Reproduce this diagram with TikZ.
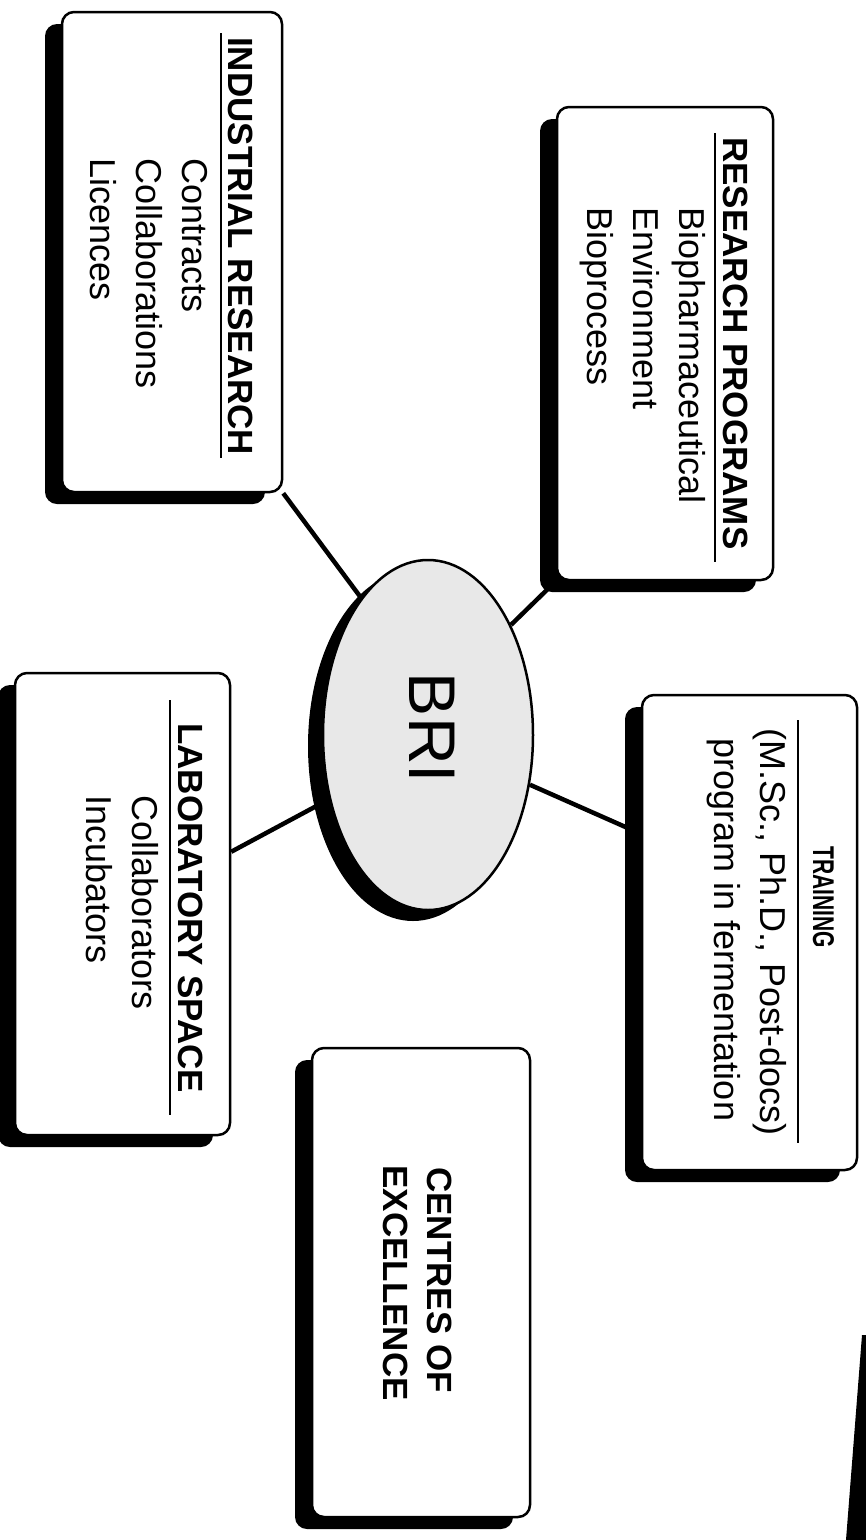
\documentclass[tikz,border=0pt]{standalone}
\usepackage{fontspec}
\setmainfont{Liberation Sans}
\usetikzlibrary{shapes.geometric,shadows,calc,backgrounds}
\begin{document}
\begin{tikzpicture}[x=1pt,y=-1pt,
  box/.style={draw=black, line width=2.5pt, rounded corners=12pt, fill=white, inner sep=0pt,
    drop shadow={shadow xshift=-17pt, shadow yshift=-12pt, fill=black, opacity=1}},
  ttl/.style={rotate=-90, anchor=base west, inner sep=0pt, font=\fontsize{35}{40}\selectfont\bfseries},
  itm/.style={rotate=-90, anchor=base west, inner sep=0pt, font=\fontsize{36}{40}\selectfont},
  ctr/.style={rotate=-90, anchor=base, inner sep=0pt},
  link/.style={line width=4.5pt},
  uline/.style={line width=2pt}]
\useasboundingbox (0,0) rectangle (866,1540);

% central ellipse
\node[ellipse, draw=black, line width=2.5pt, fill=black!9, minimum width=210pt, minimum height=350pt, inner sep=0pt,
  drop shadow={shadow xshift=-15pt, shadow yshift=-11pt, fill=black, opacity=1}] (ell) at (428,735) {};
\node[rotate=-90, inner sep=0pt, font=\fontsize{66}{70}\selectfont] (bri) at (432,728) {BRI};

% boxes
\node[box, minimum width=220pt, minimum height=480pt] (ind) at (172,252) {};
\node[box, minimum width=216pt, minimum height=473pt] (res) at (665,343.5) {};
\node[box, minimum width=215pt, minimum height=462pt] (lab) at (122.5,904) {};
\node[box, minimum width=215pt, minimum height=475pt] (tr) at (749.5,932.5) {};
\node[box, minimum width=218pt, minimum height=469pt] (ce) at (421,1282.5) {};

% industrial research
\node[ttl] (indt) at (228,37) {INDUSTRIAL RESEARCH};
\draw[uline] (221,33) -- (221,458);
\node[itm] (ind1) at (182,158) {Contracts};
\node[itm] (ind2) at (136,158) {Collaborations};
\node[itm] (ind3) at (90,158) {Licences};

% research programs
\node[ttl] (rest) at (723,137) {RESEARCH PROGRAMS};
\draw[uline] (715,133) -- (715,562);
\node[itm] (res1) at (679,207) {Biopharmaceutical};
\node[itm] (res2) at (633,207) {Environment};
\node[itm] (res3) at (587,207) {Bioprocess};

% laboratory space
\node[ttl] (labt) at (178,723) {LABORATORY SPACE};
\draw[uline] (170,700) -- (170,1115);
\node[itm] (lab1) at (132,795) {Collaborators};
\node[itm] (lab2) at (86,795) {Incubators};

% training
\node[ctr, xscale=0.7, font=\fontsize{30}{34}\selectfont\bfseries] (trt) at (813,897) {TRAINING};
\draw[uline] (798,720) -- (798,1143);
\node[ctr, font=\fontsize{36}{40}\selectfont] (tr1) at (760,932) {(M.Sc., Ph.D., Post-docs)};
\node[ctr, font=\fontsize{36}{40}\selectfont] (tr2) at (714,930) {program in fermentation};

% centres of excellence
\node[ctr, font=\fontsize{35}{40}\selectfont\bfseries] (ce1) at (427,1280) {CENTRES OF};
\node[ctr, font=\fontsize{35}{40}\selectfont\bfseries] (ce2) at (383,1283) {EXCELLENCE};

% connectors
\begin{scope}[on background layer]
\draw[link] (ell.116) -- (ind.south east);
\draw[link] (ell.53) -- (res.south west);
\draw[link] (ell.-26) -- ($(tr.north west)+(0,140)$);
\draw[link] (ell.213) -- ($(lab.north east)+(0,180)$);
\draw[link] (ell.south) -- (ell.south -| ce.north);
\end{scope}

% page edge
\fill[black] (862,1335) -- (866,1335) -- (866,1540) -- (846,1540) -- cycle;
\end{tikzpicture}
\end{document}
